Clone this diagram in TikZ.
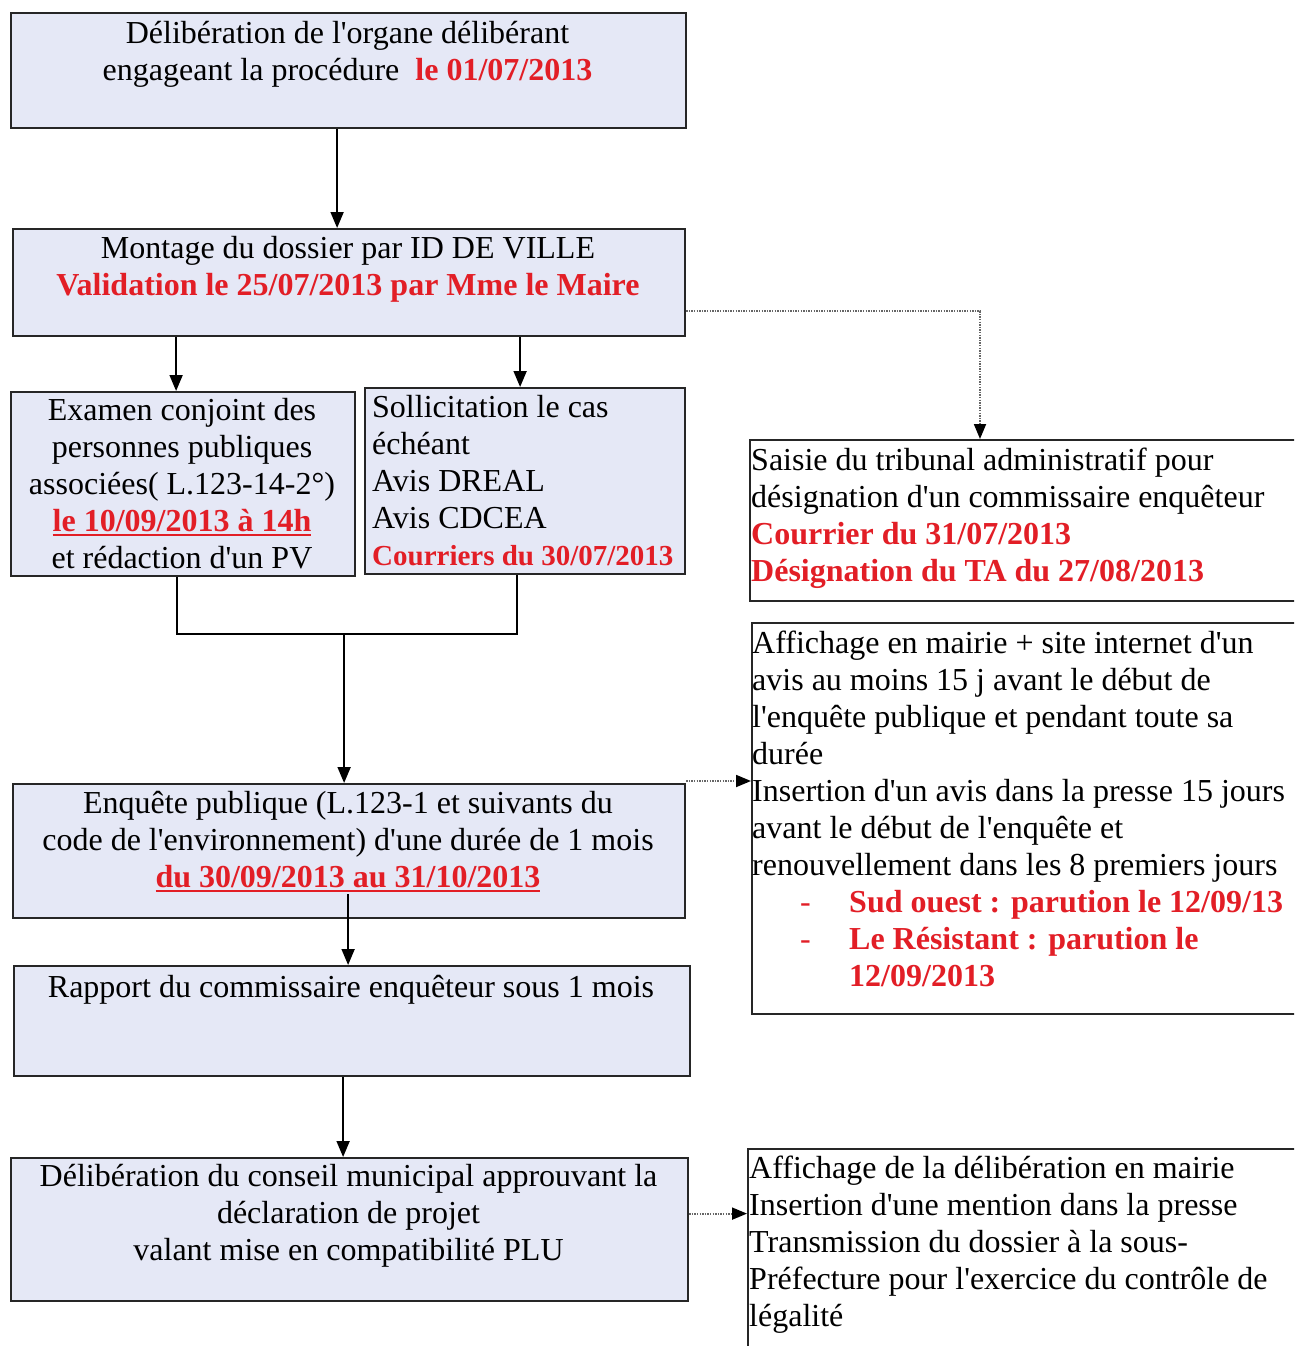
\documentclass[tikz,border=0pt]{standalone}
\usepackage{fontspec}
\setmainfont{Liberation Serif}
\usetikzlibrary{arrows.meta}
\definecolor{boxfill}{RGB}{229,232,246}
\definecolor{myred}{RGB}{226,30,38}
\newcommand\q{\textquotesingle}
\newcommand\rb[1]{{\color{myred}\bfseries #1}}
\newcommand\ulr[1]{\setbox0=\hbox{#1}\rlap{\color{myred}\rule[-5pt]{\wd0}{2.5pt}}\box0}
\newcommand\fst{\rule{0pt}{30pt}}
\begin{document}
\begin{tikzpicture}[x=1pt,y=-1pt,
  every node/.style={font=\fontsize{32}{37}\selectfont, inner sep=0pt},
  box/.style={draw=black!85, line width=2.2pt, fill=boxfill, anchor=north west, inner sep=0pt},
  wbox/.style={box, fill=white},
  arr/.style={line width=1.8pt, -{Triangle[length=16pt,width=13pt]}},
  plain/.style={line width=1.8pt},
  dotarr/.style={line width=1.8pt, draw=black!60, dash pattern=on 1.4pt off 1.2pt, -{Triangle[length=15pt,width=12pt,color=black]}},
  ctext/.style={anchor=north, align=center},
  ltext/.style={anchor=north west, align=left}]
\useasboundingbox (0,0) rectangle (1294,1346);
\clip (0,0) rectangle (1294,1346);
\fill[white] (0,0) rectangle (1294,1346);
% boxes
\node[box, minimum width=675pt, minimum height=115pt] (b1) at (10,12) {};
\node[box, minimum width=672pt, minimum height=107pt] (b2) at (12,228) {};
\node[box, minimum width=344pt, minimum height=184pt] (b3) at (10,391) {};
\node[box, minimum width=320pt, minimum height=186pt] (b4) at (364,387) {};
\node[box, minimum width=672pt, minimum height=134pt] (b5) at (12,783) {};
\node[box, minimum width=676pt, minimum height=110pt] (b6) at (13,965) {};
\node[box, minimum width=677pt, minimum height=143pt] (b7) at (10,1157) {};
\node[wbox, minimum width=571pt, minimum height=161pt] (r1) at (749,439) {};
\node[wbox, minimum width=569pt, minimum height=391pt] (r2) at (751,622) {};
\node[wbox, minimum width=573pt, minimum height=220pt] (r3) at (747,1148) {};
% texts
\node[ctext] (t1) at (347.5,13) {\fst Délibération de l\q organe délibérant\\engageant la procédure\ \ \rb{le 01/07/2013}};
\node[ctext] (t2) at (348,228) {\fst Montage du dossier par ID DE VILLE\\\rb{Validation le 25/07/2013 par Mme le Maire}};
\node[ctext] (t3) at (182,390) {\fst Examen conjoint des\\personnes publiques\\associées( L.123-14-2°)\\\rb{\ulr{le 10/09/2013 à 14h}}\\et rédaction d\q un PV};
\node[ltext] (t4) at (372,387) {\fst Sollicitation le cas\\échéant\\Avis DREAL\\Avis CDCEA\\{\fontsize{29}{37}\selectfont\rb{Courriers du 30/07/2013}}};
\node[ctext] (t5) at (348,783) {\fst Enquête publique (L.123-1 et suivants du\\code de l\q environnement) d\q une durée de 1 mois\\\rb{\ulr{du 30/09/2013 au 31/10/2013}}};
\node[ctext] (t6) at (351,967) {\fst Rapport du commissaire enquêteur sous 1 mois};
\node[ctext] (t7) at (348.5,1156) {\fst Délibération du conseil municipal approuvant la\\déclaration de projet\\valant mise en compatibilité PLU};
\node[ltext] (tr1) at (751,440) {\fst Saisie du tribunal administratif pour\\désignation d\q un commissaire enquêteur\\\rb{Courrier du 31/07/2013}\\\rb{Désignation du TA du 27/08/2013}};
\node[ltext] (tr2) at (752,623) {\fst Affichage en mairie + site internet d\q un\\avis au moins 15 j avant le début de\\l\q enquête publique et pendant toute sa\\durée\\Insertion d\q un avis dans la presse 15 jours\\avant le début de l\q enquête et\\renouvellement dans les 8 premiers jours\\\makebox[97pt][l]{\hspace*{48pt}\textcolor{myred}{-}}\rb{Sud ouest : parution le 12/09/13}\\\makebox[97pt][l]{\hspace*{48pt}\textcolor{myred}{-}}\rb{Le Résistant : parution le}\\\hspace*{97pt}\rb{12/09/2013}};
\node[ltext] (tr3) at (749,1148) {\fst Affichage de la délibération en mairie\\Insertion d\q une mention dans la presse\\Transmission du dossier à la sous-\\Préfecture pour l\q exercice du contrôle de\\légalité};
% solid connectors
\coordinate (c1) at ([xshift=-11.5pt]b1.south);
\draw[arr] (c1) -- (c1 |- b2.north);
\coordinate (c2) at ([xshift=-173pt]b2.south);
\draw[arr] (c2) -- (c2 |- b3.north);
\coordinate (c3) at ([xshift=171pt]b2.south);
\draw[arr] (c3) -- (c3 |- b4.north);
\coordinate (m1) at ([xshift=-6pt]b3.south);
\coordinate (m2) at ([xshift=-8pt]b4.south);
\coordinate (m3) at ([yshift=-57pt]m1);
\draw[plain] (m1) -- (m3) -- (m3 -| m2) -- (m2);
\coordinate (m5) at ([xshift=-5pt]b5.north);
\draw[arr] (m5 |- m3) -- (m5);
\coordinate (c4) at ([xshift=-1pt,yshift=25pt]b5.south);
\draw[arr] (c4) -- (c4 |- b6.north);
\coordinate (c5) at ([xshift=-9pt]b6.south);
\draw[arr] (c5) -- (c5 |- b7.north);
% dotted connectors
\coordinate (d1) at ([yshift=-28.5pt]b2.east);
\coordinate (d1t) at ([xshift=231pt]r1.north west);
\draw[dotarr] (d1) -| (d1t);
\coordinate (d2) at ([yshift=2pt]b5.north east);
\draw[dotarr] (d2) -- (d2 -| r2.west);
\coordinate (d3) at ([yshift=16pt]b7.east);
\draw[dotarr] (d3) -- (d3 -| r3.west);
\end{tikzpicture}
\end{document}
